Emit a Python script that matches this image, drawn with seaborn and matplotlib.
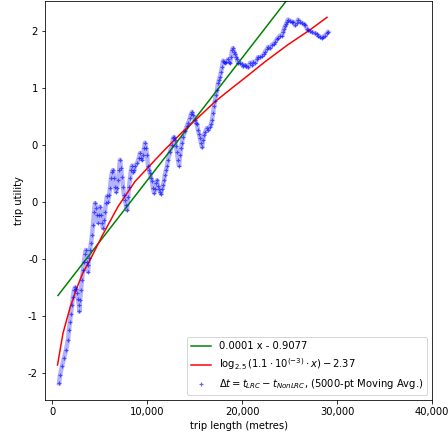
import numpy as np
import pandas as pd
import matplotlib
matplotlib.use("Agg")
import matplotlib.pyplot as plt
import matplotlib.ticker as mticker
import seaborn as sns

# moving average trace (trip length in metres, utility)
trace_x = [740, 840, 1050, 1260, 1470, 1680, 1790, 1890, 2000, 2110, 2210, 2320, 2420, 2530,
           2630, 2740, 2840, 2880, 2950, 3050, 3160, 3260, 3370, 3470, 3580, 3680, 3790, 3840,
           3900, 4000, 4110, 4210, 4320, 4420, 4530, 4630, 4740, 4840, 4950, 5050, 5160, 5260,
           5370, 5470, 5580, 5680, 5790, 5890, 6000, 6110, 6210, 6320, 6420, 6530, 6630, 6740,
           6840, 6950, 7050, 7160, 7260, 7370, 7470, 7580, 7680, 7790, 7890, 8000, 8110, 8210,
           8320, 8420, 8530, 8630, 8740, 8950, 9160, 9260, 9370, 9470, 9580, 9680, 9790, 9890,
           10000, 10110, 10210, 10320, 10420, 10530, 10630, 10740, 10840, 10950, 11050, 11160,
           11260, 11370, 11470, 11580, 11680, 11790, 11890, 12000, 12110, 12210, 12420, 12630,
           12740, 12840, 12950, 13050, 13160, 13260, 13370, 13470, 13580, 13680, 13790, 14000,
           14210, 14320, 14530, 14630, 14740, 14840, 15050, 15160, 15260, 15370, 15470, 15580,
           15680, 15790, 15890, 16000, 16110, 16320, 16420, 16630, 16740, 16840, 16950, 17050,
           17160, 17260, 17370, 17470, 17580, 17680, 17790, 17890, 18000, 18110, 18210, 18320,
           18530, 18630, 18740, 18840, 18950, 19050, 19160, 19260, 19370, 19470, 19580, 19790,
           20000, 20110, 20320, 20420, 20630, 20840, 21050, 21160, 21370, 21580, 21680, 21890,
           22110, 22320, 22420, 22630, 22740, 22950, 23160, 23370, 23470, 23680, 23790, 24000,
           24210, 24320, 24420, 24530, 24630, 24740, 24840, 25050, 25260, 25370, 25580, 25790,
           25890, 26110, 26320, 26530, 26630, 26840, 26950, 27160, 27370, 27680, 27890, 28000,
           28210, 28420, 28530, 28740, 28950, 29050]
trace_y = [-1.59, -1.52, -1.44, -1.37, -1.30, -1.21, -1.12, -1.05, -0.98, -0.90, -0.83, -0.77,
           -0.75, -0.76, -0.80, -0.85, -0.90, -0.96, -0.86, -0.77, -0.68, -0.60, -0.53, -0.46,
           -0.42, -0.53, -0.61, -0.55, -0.49, -0.42, -0.36, -0.29, -0.20, -0.09, -0.01, -0.05,
           -0.11, -0.18, -0.11, -0.04, -0.11, -0.18, -0.23, -0.16, -0.09, -0.01, 0.05, 0.00,
           0.06, 0.12, 0.21, 0.26, 0.28, 0.21, 0.13, 0.09, 0.12, 0.19, 0.28, 0.37, 0.30, 0.22,
           0.13, 0.06, 0.02, -0.03, -0.07, 0.04, 0.13, 0.21, 0.28, 0.32, 0.26, 0.28, 0.32, 0.34,
           0.39, 0.43, 0.39, 0.37, 0.41, 0.47, 0.52, 0.47, 0.41, 0.32, 0.28, 0.25, 0.21, 0.18,
           0.12, 0.08, 0.11, 0.17, 0.19, 0.14, 0.11, 0.09, 0.07, 0.11, 0.15, 0.19, 0.24, 0.28,
           0.32, 0.37, 0.44, 0.50, 0.56, 0.57, 0.54, 0.49, 0.44, 0.37, 0.32, 0.41, 0.47, 0.52,
           0.57, 0.62, 0.67, 0.69, 0.74, 0.77, 0.79, 0.76, 0.72, 0.69, 0.68, 0.63, 0.60, 0.56,
           0.52, 0.48, 0.54, 0.59, 0.61, 0.65, 0.63, 0.66, 0.68, 0.72, 0.78, 0.84, 0.89, 0.94,
           0.98, 1.04, 1.07, 1.10, 1.14, 1.18, 1.24, 1.23, 1.22, 1.23, 1.25, 1.23, 1.22, 1.27,
           1.33, 1.35, 1.32, 1.30, 1.27, 1.25, 1.22, 1.22, 1.21, 1.19, 1.20, 1.19, 1.18, 1.22,
           1.20, 1.23, 1.22, 1.25, 1.27, 1.27, 1.28, 1.30, 1.32, 1.34, 1.36, 1.35, 1.38, 1.39,
           1.40, 1.43, 1.44, 1.46, 1.46, 1.49, 1.52, 1.54, 1.56, 1.58, 1.60, 1.59, 1.58, 1.58,
           1.55, 1.57, 1.60, 1.58, 1.57, 1.56, 1.55, 1.52, 1.51, 1.50, 1.49, 1.48, 1.47, 1.46,
           1.45, 1.44, 1.45, 1.46, 1.48, 1.49]

# log fit curve
log_x = [580, 1160, 1890, 2630, 3260, 4000, 5260, 6950, 8740, 10530, 11890, 13680, 15370,
         17160, 18950, 20630, 22420, 24840, 27160, 28950]
log_y = [-1.43, -1.15, -0.93, -0.75, -0.62, -0.51, -0.30, -0.04, 0.18, 0.34, 0.46, 0.61, 0.74,
         0.88, 1.00, 1.11, 1.23, 1.38, 1.51, 1.62]

# linear fit
lin_x = [630, 29000]
lin_y = [-0.82, 2.23]

trace = pd.DataFrame({"x": trace_x, "y": trace_y})
logfit = pd.DataFrame({"x": log_x, "y": log_y})
linfit = pd.DataFrame({"x": lin_x, "y": lin_y})

plt.rcParams["axes.unicode_minus"] = False

fig = plt.figure(figsize=(448 / 72, 441 / 72), dpi=72)
ax = fig.add_axes([45 / 448, 41 / 441, 387 / 448, 399 / 441])

sns.lineplot(data=linfit, x="x", y="y", ax=ax, color="green", lw=1.5,
             label="0.0001 x - 0.9077")
sns.lineplot(data=logfit, x="x", y="y", ax=ax, color="red", lw=1.5,
             label=r"$\log_{2.5}(1.1\cdot10^{(-3)}\cdot x) - 2.37$")
ax.plot(trace_x, trace_y, color="blue", lw=4.5, alpha=0.3, zorder=1)
sns.scatterplot(data=trace, x="x", y="y", ax=ax, color="blue", marker="+", s=20,
                linewidth=1.2, alpha=0.6, zorder=2,
                label=r"$\Delta t = t_{LRC} - t_{NonLRC}$, (5000-pt Moving Avg.)")

ax.set_xlim(-737, 40000)
ax.set_ylim(-1.737, 1.763)
ax.set_xticks([0, 10000, 20000, 30000, 40000])
ax.xaxis.set_major_formatter(mticker.FuncFormatter(lambda v, p: "{:,.0f}".format(v)))
ax.set_yticks([-1.5, -1.0, -0.5, 0.0, 0.5, 1.0, 1.5])
ax.yaxis.set_major_formatter(mticker.FuncFormatter(lambda v, p: "{:.0f}".format(v)))
ax.set_xlabel("trip length (metres)")
ax.set_ylabel("trip utility")

ax.legend(loc="lower right")

plt.savefig("out.png", dpi=72)
